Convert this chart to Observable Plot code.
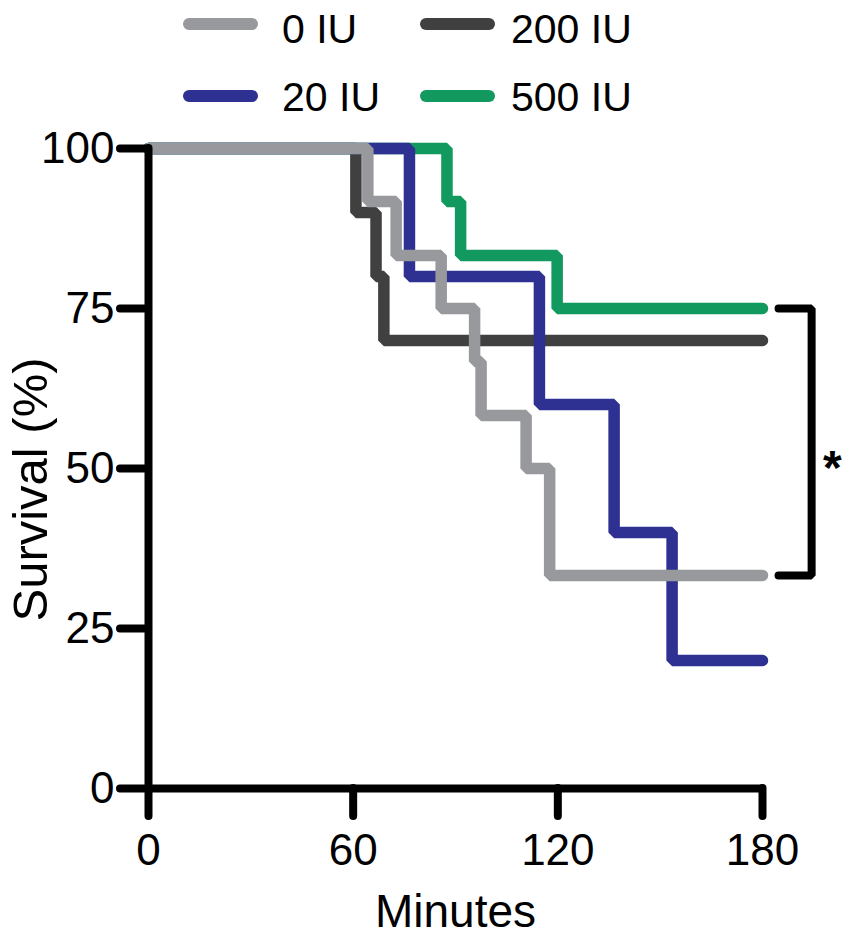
<!DOCTYPE html>
<html>
<head>
<meta charset="utf-8">
<script src="https://cdn.jsdelivr.net/npm/d3@7"></script>
<script src="https://cdn.jsdelivr.net/npm/@observablehq/plot@0.6"></script>
<style>
  html, body { margin: 0; padding: 0; background: #fff; }
  body { width: 845px; height: 937px; overflow: hidden; font-family: "Liberation Sans", Arial, sans-serif; }
  #legend { position: relative; width: 845px; height: 120px; }
  .sw { position: absolute; height: 12px; border-radius: 6px; }
  .lt { position: absolute; font-size: 41px; line-height: 41px; color: #000; white-space: nowrap; }
  #chart svg { display: block; }
</style>
</head>
<body>
<div id="legend"></div>
<div id="chart"></div>
<script>
// ---- data ----
const groups = ["0 IU", "20 IU", "200 IU", "500 IU"];
const colors = ["#98999c", "#2e3192", "#404040", "#12995f"];

const time0   = [0, 64.3, 72.6, 85.8, 95.6, 97.5, 110.7, 117.6, 180];
const surv0   = [100, 91.7, 83.3, 75, 66.7, 58.3, 50, 33.3, 33.3];
const time20  = [0, 76.5, 114.6, 136.5, 153.5, 180];
const surv20  = [100, 80, 60, 40, 20, 20];
const time200 = [0, 60.8, 66.7, 69, 180];
const surv200 = [100, 90, 80, 70, 70];
const time500 = [0, 87.5, 91.5, 119.8, 180];
const surv500 = [100, 91.7, 83.3, 75, 75];

const xTicks = [0, 60, 120, 180];
const yTicks = [0, 25, 50, 75, 100];

// significance bracket between 500 IU and 0 IU at the end of the curves
const bracketX = [184.7, 194.4, 194.4, 184.7];
const bracketY = [75, 75, 33.3, 33.3];
const sigLabel = ["*"];
const sigX = [200.5];
const sigY = [50];

// ---- build tables ----
const series = {
  "0 IU": [time0, surv0],
  "20 IU": [time20, surv20],
  "200 IU": [time200, surv200],
  "500 IU": [time500, surv500]
};
const drawOrder = ["200 IU", "500 IU", "20 IU", "0 IU"];
const rows = [];
for (const g of drawOrder) {
  const [t, s] = series[g];
  t.forEach((v, i) => rows.push({group: g, time: v, surv: s[i]}));
}
const bracket = bracketX.map((x, i) => ({x, y: bracketY[i]}));
const sig = sigLabel.map((t, i) => ({t, x: sigX[i], y: sigY[i]}));

// ---- legend ----
const legend = document.getElementById("legend");
const legendPos = {
  "0 IU":   {sx: 183, sy: 24, tx: 282, ty: 9},
  "200 IU": {sx: 420, sy: 24, tx: 511, ty: 9},
  "20 IU":  {sx: 183, sy: 96, tx: 282, ty: 77},
  "500 IU": {sx: 420, sy: 96, tx: 511, ty: 77}
};
for (const g of groups) {
  const p = legendPos[g];
  const c = colors[groups.indexOf(g)];
  const sw = document.createElement("div");
  sw.className = "sw";
  sw.style.left = p.sx + "px";
  sw.style.top = (p.sy - 6) + "px";
  sw.style.width = "75px";
  sw.style.background = c;
  legend.appendChild(sw);
  const lt = document.createElement("div");
  lt.className = "lt";
  lt.style.left = p.tx + "px";
  lt.style.top = p.ty + "px";
  lt.textContent = g;
  legend.appendChild(lt);
}

// ---- chart ----
const chart = Plot.plot({
  width: 845,
  height: 817,
  marginTop: 28,
  marginLeft: 148,
  marginRight: 83,
  marginBottom: 149,
  style: {fontFamily: "'Liberation Sans', Arial, sans-serif", background: "#fff", color: "#000", overflow: "visible"},
  x: {domain: [0, 180]},
  y: {domain: [0, 100]},
  color: {domain: groups, range: colors},
  marks: [
    Plot.line(rows, {
      x: "time", y: "surv", z: "group", stroke: "group",
      curve: "step-after", strokeWidth: 11.5,
      strokeLinecap: "round", strokeLinejoin: "miter"
    }),
    Plot.ruleX([0], {strokeWidth: 8, strokeLinecap: "round"}),
    Plot.ruleY([0], {strokeWidth: 8, strokeLinecap: "round"}),
    Plot.axisX({ticks: xTicks, tickSize: 28, tickPadding: 17, fontSize: 44,
      strokeWidth: 8, strokeLinecap: "round", label: null, tickFormat: d => String(d)}),
    Plot.axisY({ticks: yTicks, tickSize: 28, tickPadding: 6, fontSize: 44,
      strokeWidth: 8, strokeLinecap: "round", label: null, tickFormat: d => String(d)}),
    Plot.text(["Minutes"], {frameAnchor: "bottom", dy: 124, fontSize: 46, lineAnchor: "middle"}),
    Plot.text(["Survival (%)"], {frameAnchor: "left", textAnchor: "middle", rotate: -90, dx: -117, dy: 21, fontSize: 49, lineAnchor: "middle"}),
    Plot.line(bracket, {x: "x", y: "y", stroke: "#000", strokeWidth: 8,
      strokeLinecap: "round", strokeLinejoin: "miter"}),
    Plot.text(sig, {x: "x", y: "y", text: "t", fontSize: 48, fontWeight: "bold", lineAnchor: "middle"})
  ]
});
document.getElementById("chart").appendChild(chart);
</script>
</body>
</html>
